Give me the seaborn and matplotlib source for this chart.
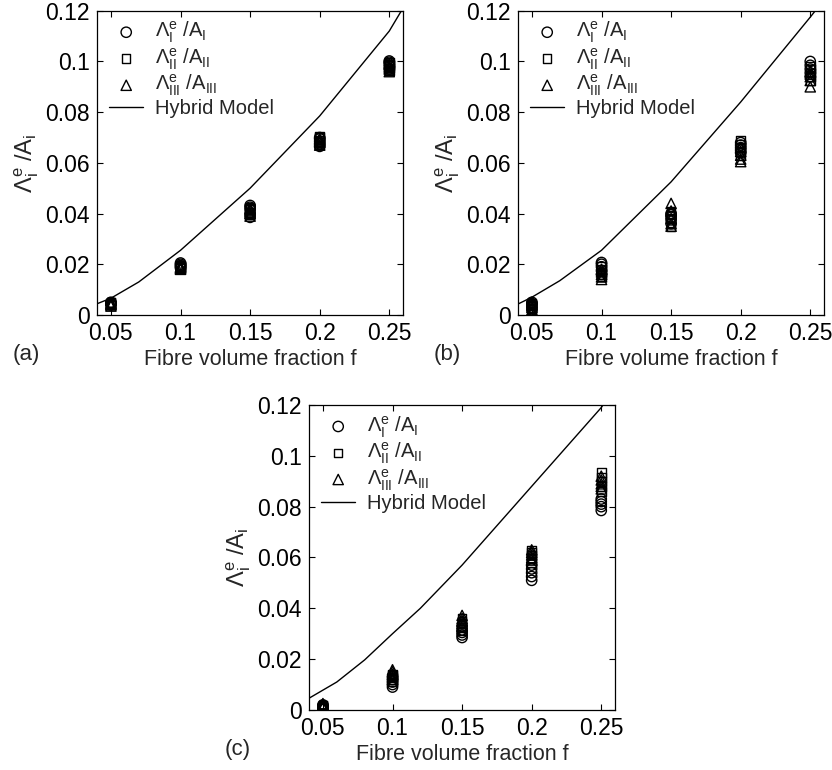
import matplotlib
matplotlib.use("Agg")
import numpy as np
import pandas as pd
import matplotlib.pyplot as plt
from matplotlib.ticker import FuncFormatter
import seaborn as sns

# === DONNEES ===
F_VALUES = [0.05, 0.10, 0.15, 0.20, 0.25]

# (a)
a_I = [[0.0040, 0.0045, 0.0050, 0.0043, 0.0047],
       [0.0190, 0.0195, 0.0200, 0.0205, 0.0185],
       [0.0385, 0.0400, 0.0415, 0.0425, 0.0432],
       [0.0665, 0.0675, 0.0685, 0.0695, 0.0700],
       [0.0970, 0.0980, 0.0990, 0.0997, 0.1002]]
a_II = [[0.0040, 0.0045, 0.0050, 0.0042, 0.0048],
        [0.0185, 0.0190, 0.0195, 0.0188, 0.0192],
        [0.0395, 0.0405, 0.0415, 0.0420, 0.0425],
        [0.0670, 0.0680, 0.0690, 0.0700, 0.0705],
        [0.0965, 0.0975, 0.0985, 0.0995, 0.0990]]
a_III = [[0.0035, 0.0040, 0.0045, 0.0042, 0.0048],
         [0.0180, 0.0185, 0.0190, 0.0183, 0.0188],
         [0.0390, 0.0400, 0.0410, 0.0420, 0.0415],
         [0.0670, 0.0680, 0.0690, 0.0695, 0.0685],
         [0.0960, 0.0970, 0.0980, 0.0990, 0.0975]]
a_curve_x = [0.04, 0.05, 0.07, 0.10, 0.15, 0.20, 0.25, 0.2587]
a_curve_y = [0.0044, 0.0066, 0.0130, 0.0255, 0.0500, 0.0785, 0.1120, 0.1200]

# (b)
b_I = [[0.0020, 0.0030, 0.0040, 0.0050, 0.0045],
       [0.0160, 0.0175, 0.0190, 0.0200, 0.0207],
       [0.0360, 0.0375, 0.0385, 0.0395, 0.0400],
       [0.0640, 0.0650, 0.0660, 0.0670, 0.0680],
       [0.0940, 0.0955, 0.0970, 0.0985, 0.1000]]
b_II = [[0.0015, 0.0025, 0.0035, 0.0045, 0.0040],
        [0.0150, 0.0160, 0.0170, 0.0180, 0.0190],
        [0.0350, 0.0365, 0.0380, 0.0395, 0.0410],
        [0.0630, 0.0645, 0.0660, 0.0675, 0.0690],
        [0.0925, 0.0940, 0.0955, 0.0970, 0.0980]]
b_III = [[0.0010, 0.0020, 0.0030, 0.0040, 0.0050],
         [0.0140, 0.0150, 0.0160, 0.0170, 0.0180],
         [0.0350, 0.0360, 0.0380, 0.0410, 0.0440],
         [0.0605, 0.0615, 0.0630, 0.0645, 0.0660],
         [0.0900, 0.0925, 0.0940, 0.0950, 0.0960]]
b_curve_x = [0.04, 0.05, 0.07, 0.10, 0.15, 0.20, 0.25, 0.2536]
b_curve_y = [0.0043, 0.0070, 0.0135, 0.0255, 0.0525, 0.0840, 0.1175, 0.1200]

# (c)
c_I = [[0.0008, 0.0012, 0.0016, 0.0020, 0.0010],
       [0.0090, 0.0100, 0.0110, 0.0120, 0.0130],
       [0.0285, 0.0295, 0.0305, 0.0315, 0.0330],
       [0.0510, 0.0525, 0.0540, 0.0555, 0.0570],
       [0.0785, 0.0800, 0.0810, 0.0820, 0.0830]]
c_II = [[0.0008, 0.0012, 0.0018, 0.0015, 0.0020],
        [0.0110, 0.0120, 0.0130, 0.0140, 0.0135],
        [0.0310, 0.0325, 0.0340, 0.0350, 0.0360],
        [0.0580, 0.0595, 0.0610, 0.0620, 0.0630],
        [0.0860, 0.0880, 0.0900, 0.0915, 0.0935]]
c_III = [[0.0010, 0.0015, 0.0020, 0.0025, 0.0018],
         [0.0120, 0.0130, 0.0140, 0.0150, 0.0158],
         [0.0330, 0.0340, 0.0350, 0.0360, 0.0372],
         [0.0590, 0.0600, 0.0610, 0.0620, 0.0630],
         [0.0870, 0.0880, 0.0890, 0.0905, 0.0920]]
c_curve_x = [0.04, 0.06, 0.08, 0.10, 0.12, 0.15, 0.20, 0.25, 0.2512]
c_curve_y = [0.0046, 0.0110, 0.0197, 0.0300, 0.0400, 0.0570, 0.0880, 0.1190, 0.1200]

LEGENDE = [r"$\Lambda_{\mathrm{I}}^{e}\ /A_{\mathrm{I}}$",
           r"$\Lambda_{\mathrm{II}}^{e}\ /A_{\mathrm{II}}$",
           r"$\Lambda_{\mathrm{III}}^{e}\ /A_{\mathrm{III}}$"]
MARQUEURS = ["o", "s", "^"]
TAILLES = [55, 38, 55]


def en_tableau(series):
    lignes = []
    for f, vals in zip(F_VALUES, series):
        for v in vals:
            lignes.append({"f": f, "val": v})
    return pd.DataFrame(lignes)


# === STYLE ===
sns.set_theme(style="ticks")
plt.rcParams["font.family"] = ["Liberation Sans", "DejaVu Sans"]
plt.rcParams["mathtext.fontset"] = "custom"
plt.rcParams["mathtext.rm"] = "Liberation Sans"
plt.rcParams["mathtext.it"] = "Liberation Sans"
plt.rcParams["mathtext.default"] = "regular"

fig = plt.figure(figsize=(8.32, 7.70), dpi=100)
positions = {
    "a": [0.1166, 0.591, 0.368, 0.395],
    "b": [0.6226, 0.591, 0.368, 0.395],
    "c": [0.3714, 0.078, 0.368, 0.396],
}
donnees = {
    "a": ([a_I, a_II, a_III], a_curve_x, a_curve_y),
    "b": ([b_I, b_II, b_III], b_curve_x, b_curve_y),
    "c": ([c_I, c_II, c_III], c_curve_x, c_curve_y),
}

fmt = FuncFormatter(lambda v, p: "%g" % round(v, 4))

for cle in ["a", "b", "c"]:
    ax = fig.add_axes(positions[cle])
    series, cx, cy = donnees[cle]
    for s, lab, m, t in zip(series, LEGENDE, MARQUEURS, TAILLES):
        df = en_tableau(s)
        sns.scatterplot(data=df, x="f", y="val", marker=m, s=t,
                        facecolors="none", edgecolors="black", linewidth=1.0,
                        label=lab, ax=ax)
    sns.lineplot(x=cx, y=cy, color="black", linewidth=1.0,
                 label="Hybrid Model", ax=ax)

    ax.set_xlim(0.04, 0.26)
    ax.set_ylim(0, 0.12)
    ax.set_xticks(F_VALUES)
    ax.set_yticks([0, 0.02, 0.04, 0.06, 0.08, 0.1, 0.12])
    ax.xaxis.set_major_formatter(fmt)
    ax.yaxis.set_major_formatter(fmt)
    ax.tick_params(direction="in", top=True, right=True, length=4,
                   width=0.8, labelsize=16.5, colors="black", pad=5)
    for sp in ax.spines.values():
        sp.set_visible(True)
        sp.set_linewidth(0.9)
        sp.set_color("black")
    ax.set_xlabel("Fibre volume fraction f", fontsize=15.5, labelpad=3)
    ax.set_ylabel(r"$\Lambda_{i}^{e}\ /A_{i}$", fontsize=17, labelpad=3)

    ax.legend(loc="upper left", frameon=False, fontsize=14.5,
              handlelength=1.7, handletextpad=0.6, labelspacing=0.05,
              borderaxespad=0.2, bbox_to_anchor=(0.0, 1.01))

    x0, y0 = positions[cle][0], positions[cle][1]
    fig.text(x0 - 0.101, y0 - 0.051, "(%s)" % cle, fontsize=16, ha="left",
             va="center")

fig.savefig("out.png", dpi=100)
